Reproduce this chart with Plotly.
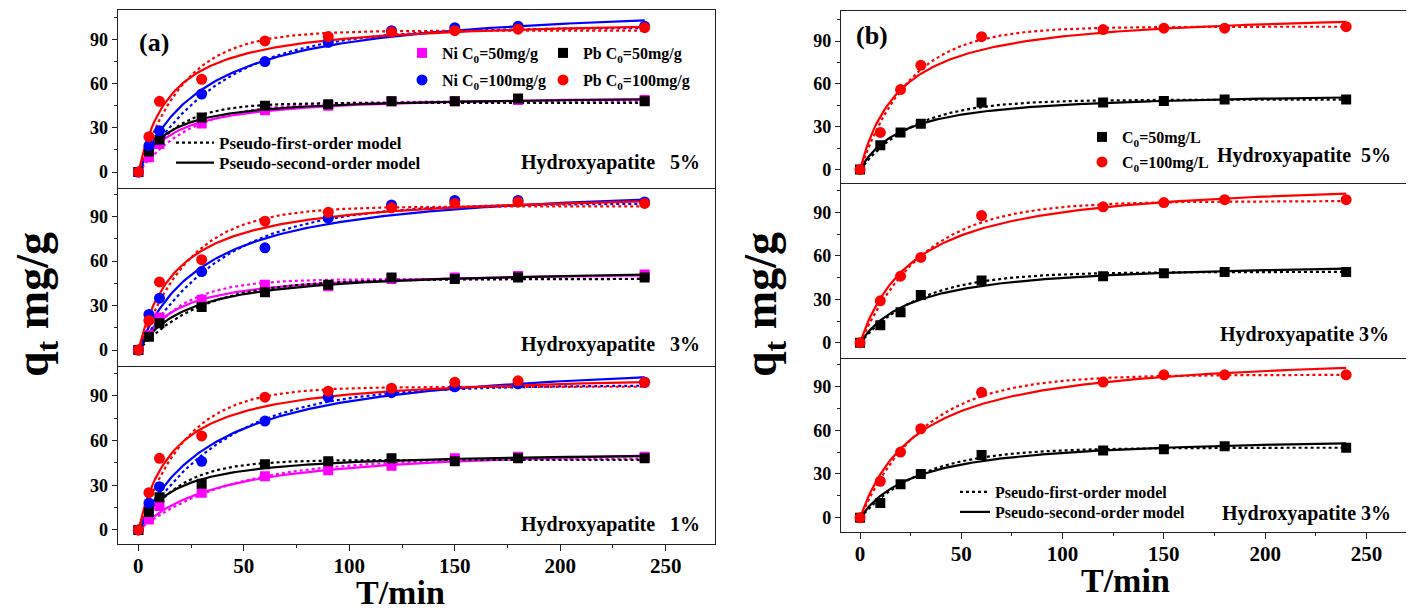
import numpy as np
import plotly.graph_objects as go

# The page body has an 8px default margin; the figure is sized so that
# reference pixel (px, py) maps to figure pixel (px-8, py-8).
OFF = 8
W, H = 1414 - OFF, 610 - OFF

# ---------------- data ----------------
t_a = [0, 5, 10, 30, 60, 90, 120, 150, 180, 240]
t_b = [0, 10, 20, 30, 60, 120, 150, 180, 240]

# panel (a) Hydroxyapatite 5%
ni50_5 = [0, 10, 19, 33, 42, 45, 48, 48, 49, 49]
pb50_5 = [0, 14, 22, 37, 45, 46, 48, 48, 50, 48]
ni100_5 = [0, 18, 28, 53, 75, 88, 96, 98, 99, 99]
pb100_5 = [0, 24, 48, 63, 89, 92, 95, 96, 97, 98]
# panel (a) Hydroxyapatite 3%
ni50_3 = [0, 10, 22, 34, 44, 43, 48, 49, 50, 51]
pb50_3 = [0, 9, 18, 29, 39, 44, 49, 48, 49, 49]
ni100_3 = [0, 24, 35, 53, 69, 89, 98, 101, 101, 100]
pb100_3 = [0, 20, 46, 61, 87, 93, 96, 99, 100, 99]
# panel (a) Hydroxyapatite 1%
ni50_1 = [0, 7, 16, 25, 36, 40, 43, 48, 49, 49]
pb50_1 = [0, 12, 22, 31, 44, 46, 48, 46, 48, 48]
ni100_1 = [0, 18, 29, 46, 73, 89, 92, 96, 98, 99]
pb100_1 = [0, 25, 48, 63, 89, 93, 95, 99, 100, 99]

# panel (b)
b5_c50 = [0, 17, 26, 32, 47, 47, 48, 49, 49]
b5_c100 = [0, 26, 56, 73, 93, 98, 99, 99, 100]
b3_c50 = [0, 12, 21, 33, 43, 46, 48, 49, 49]
b3_c100 = [0, 29, 46, 59, 88, 94, 97, 99, 99]
b3b_c50 = [0, 10, 23, 30, 43, 46, 47, 49, 48]
b3b_c100 = [0, 25, 45, 61, 86, 93, 98, 98, 98]

# fitted model parameters (estimated from the drawn curves)
# pseudo-first-order: qe, k1 ; pseudo-second-order: qe, k2
pfo_qe_a5 = [48, 47, 98, 96]
pfo_k1_a5 = [0.039, 0.058, 0.025, 0.046]
pso_qe_a5 = [53, 52, 117, 105]
pso_k2_a5 = [0.001126, 0.001442, 0.0002615, 0.000609]

pfo_qe_a3 = [48, 48, 99, 97]
pfo_k1_a3 = [0.049, 0.0327, 0.0248, 0.0414]
pso_qe_a3 = [54, 56, 115, 108]
pso_k2_a3 = [0.001052, 0.000738, 0.000275, 0.000505]

pfo_qe_a1 = [48, 47, 97, 96]
pfo_k1_a1 = [0.0231, 0.0515, 0.0242, 0.0449]
pso_qe_a1 = [58, 53, 118, 106]
pso_k2_a1 = [0.000436, 0.001126, 0.0002305, 0.000563]

pfo_qe_b5 = [49, 100]
pfo_k1_b5 = [0.0373, 0.0401]
pso_qe_b5 = [55, 112]
pso_k2_b5 = [0.000844, 0.000443]

pfo_qe_b3 = [49, 98]
pfo_k1_b3 = [0.0334, 0.0316]
pso_qe_b3 = [57, 115]
pso_k2_b3 = [0.000649, 0.000317]

pfo_qe_b3b = [48, 98]
pfo_k1_b3b = [0.0327, 0.0316]
pso_qe_b3b = [57, 115]
pso_k2_b3b = [0.000623, 0.000304]

panel_texts = ["Hydroxyapatite   5%", "Hydroxyapatite   3%", "Hydroxyapatite   1%",
               "Hydroxyapatite  5%", "Hydroxyapatite 3%", "Hydroxyapatite 3%"]
y_ticks = [0, 30, 60, 90]
x_ticks = [0, 50, 100, 150, 200, 250]

# ---------------- styling ----------------
MAG, BLK, BLU, RED = "#FF00FF", "#000000", "#0000FF", "#FF0000"
FONT = "Liberation Serif"
LINE = "#222222"
SQ, CI = 10, 11
t_fit = np.linspace(0, 240, 241)


def pfo(qe, k):
    return qe * (1 - np.exp(-k * t_fit))


def pso(qe, k2):
    return qe * qe * k2 * t_fit / (1 + qe * k2 * t_fit)


def fx(px):
    return (px - OFF) / W


def fy(py):
    return 1 - (py - OFF) / H


fig = go.Figure()

series_a = [
    (ni50_5, ni50_3, ni50_1, MAG, "square", "Ni C<sub>0</sub>=50mg/g"),
    (pb50_5, pb50_3, pb50_1, BLK, "square", "Pb C<sub>0</sub>=50mg/g"),
    (ni100_5, ni100_3, ni100_1, BLU, "circle", "Ni C<sub>0</sub>=100mg/g"),
    (pb100_5, pb100_3, pb100_1, RED, "circle", "Pb C<sub>0</sub>=100mg/g"),
]
params_a = [
    (pfo_qe_a5, pfo_k1_a5, pso_qe_a5, pso_k2_a5),
    (pfo_qe_a3, pfo_k1_a3, pso_qe_a3, pso_k2_a3),
    (pfo_qe_a1, pfo_k1_a1, pso_qe_a1, pso_k2_a1),
]
marker_legends_a = ["legend", "legend2", "legend3", "legend4"]

for p in range(3):
    ax = "" if p == 0 else str(p + 1)
    pq1, pk1, pq2, pk2 = params_a[p]
    for i, s in enumerate(series_a):
        col = s[3]
        show1 = (p == 0 and i == 1)
        fig.add_trace(go.Scatter(x=t_fit, y=pfo(pq1[i], pk1[i]), mode="lines",
                                 line=dict(color=col, width=2.2, dash="dot"),
                                 xaxis="x" + ax, yaxis="y" + ax,
                                 name="Pseudo-first-order model",
                                 showlegend=show1, legend="legend5", hoverinfo="skip"))
        fig.add_trace(go.Scatter(x=t_fit, y=pso(pq2[i], pk2[i]), mode="lines",
                                 line=dict(color=col, width=2.2),
                                 xaxis="x" + ax, yaxis="y" + ax,
                                 name="Pseudo-second-order model",
                                 showlegend=show1, legend="legend6", hoverinfo="skip"))
    for i, s in enumerate(series_a):
        fig.add_trace(go.Scatter(x=t_a, y=s[p], mode="markers",
                                 marker=dict(color=s[3], symbol=s[4], size=SQ if s[4] == "square" else CI),
                                 xaxis="x" + ax, yaxis="y" + ax, name=s[5],
                                 showlegend=(p == 0), legend=marker_legends_a[i]))

series_b = [
    ((b5_c50, b3_c50, b3b_c50), BLK, "square", "C<sub>0</sub>=50mg/L"),
    ((b5_c100, b3_c100, b3b_c100), RED, "circle", "C<sub>0</sub>=100mg/L"),
]
params_b = [
    (pfo_qe_b5, pfo_k1_b5, pso_qe_b5, pso_k2_b5),
    (pfo_qe_b3, pfo_k1_b3, pso_qe_b3, pso_k2_b3),
    (pfo_qe_b3b, pfo_k1_b3b, pso_qe_b3b, pso_k2_b3b),
]
for p in range(3):
    ax = str(p + 4)
    pq1, pk1, pq2, pk2 = params_b[p]
    for i, s in enumerate(series_b):
        col = s[1]
        show1 = (p == 2 and i == 0)
        fig.add_trace(go.Scatter(x=t_fit, y=pfo(pq1[i], pk1[i]), mode="lines",
                                 line=dict(color=col, width=2.2, dash="dot"),
                                 xaxis="x" + ax, yaxis="y" + ax,
                                 name="Pseudo-first-order model",
                                 showlegend=show1, legend="legend9", hoverinfo="skip"))
        fig.add_trace(go.Scatter(x=t_fit, y=pso(pq2[i], pk2[i]), mode="lines",
                                 line=dict(color=col, width=2.2),
                                 xaxis="x" + ax, yaxis="y" + ax,
                                 name="Pseudo-second-order model",
                                 showlegend=show1, legend="legend10", hoverinfo="skip"))
    for i, s in enumerate(series_b):
        fig.add_trace(go.Scatter(x=t_b, y=s[0][p], mode="markers",
                                 marker=dict(color=s[1], symbol=s[2], size=SQ if s[2] == "square" else CI),
                                 xaxis="x" + ax, yaxis="y" + ax, name=s[3],
                                 showlegend=(p == 0), legend="legend7" if i == 0 else "legend8"))

# ---------------- axes ----------------
a_x = [117.7, 715.3]
b_x = [841, 1412]
a_y = [(10, 187.7), (187.7, 365.7), (365.7, 544)]
b_y = [(11, 183.3), (183.3, 358.3), (358.3, 532)]
a_yr = [(-10.6, 110), (-10.6, 109.6), (-9.4, 110.1)]
b_yr = [(-9.6, 111), (-10.8, 110.3), (-9.8, 109.3)]

layout = dict(width=W, height=H, margin=dict(l=0, r=0, t=0, b=0),
              paper_bgcolor="white", plot_bgcolor="white", showlegend=True,
              font=dict(family=FONT, color="black"))

for p in range(6):
    key = "" if p == 0 else str(p + 1)
    if p < 3:
        xd = [fx(a_x[0]), fx(a_x[1])]
        top, bot = a_y[p]
        yr = a_yr[p]
        xr = [-9.8, 273.5]
    else:
        xd = [fx(b_x[0]), fx(b_x[1])]
        top, bot = b_y[p - 3]
        yr = b_yr[p - 3]
        xr = [-9.4, 272.5]
    bottom_row = p in (2, 5)
    has_upper = p in (1, 2, 4, 5)
    layout["xaxis" + key] = dict(
        domain=xd, range=xr, anchor="y" + key, showgrid=False, zeroline=False,
        showline=True, linecolor=LINE, linewidth=1.4, mirror=not has_upper,
        tickmode="array", tickvals=x_ticks,
        ticks="outside" if bottom_row else "", ticklen=6, tickwidth=1.3, tickcolor=LINE,
        showticklabels=bottom_row, ticklabelstandoff=-3,
        tickfont=dict(family=FONT, size=21, color="black", weight="bold"),
        minor=dict(dtick=25, tick0=0, ticks="outside" if bottom_row else "", ticklen=3,
                   tickwidth=1.2, tickcolor=LINE),
        fixedrange=True)
    layout["yaxis" + key] = dict(
        domain=[fy(bot), fy(top)], range=list(yr), anchor="x" + key, showgrid=False,
        zeroline=False, showline=True, linecolor=LINE, linewidth=1.4, mirror=True,
        tickmode="array", tickvals=y_ticks, ticks="outside", ticklen=5, tickwidth=1.3,
        tickcolor=LINE,
        tickfont=dict(family=FONT, size=18, color="black", weight="bold"),
        minor=dict(dtick=15, tick0=15, ticks="outside", ticklen=3, tickwidth=1.2,
                   tickcolor=LINE),
        fixedrange=True)


# ---------------- legends ----------------
def leg(xpx, ypx, size=16, itemwidth=30):
    return dict(x=fx(xpx), y=fy(ypx), xanchor="left", yanchor="middle",
                bgcolor="rgba(0,0,0,0)", borderwidth=0, itemwidth=itemwidth,
                font=dict(family=FONT, size=size, color="black", weight="bold"),
                tracegroupgap=0, itemclick=False, itemdoubleclick=False)


layout["legend"] = leg(402, 53)
layout["legend2"] = leg(543, 53)
layout["legend3"] = leg(402, 80)
layout["legend4"] = leg(543, 80)
layout["legend5"] = leg(171, 143, size=17, itemwidth=38)
layout["legend6"] = leg(171, 163, size=17, itemwidth=38)
layout["legend7"] = leg(1082, 137)
layout["legend8"] = leg(1082, 162)
layout["legend9"] = leg(955, 492, size=16)
layout["legend10"] = leg(955, 512, size=16)

# ---------------- annotations ----------------
ann = []


def add_text(txt, xpx, ypx, size, xanchor="center", angle=0):
    ann.append(dict(text=txt, x=fx(xpx), y=fy(ypx), xref="paper", yref="paper",
                    xanchor=xanchor, yanchor="middle", showarrow=False, textangle=angle,
                    font=dict(family=FONT, size=size, color="black", weight="bold")))


add_text("(a)", 154, 43, 26)
add_text("(b)", 872, 36, 26)
add_text(panel_texts[0], 702, 162, 20, xanchor="right")
add_text(panel_texts[1], 702, 344, 20, xanchor="right")
add_text(panel_texts[2], 702, 524, 20, xanchor="right")
add_text(panel_texts[3], 1393, 155, 20, xanchor="right")
add_text(panel_texts[4], 1391, 335, 20, xanchor="right")
add_text(panel_texts[5], 1393, 513, 20, xanchor="right")
add_text("T/min", 400, 592, 34)
add_text("T/min", 1125, 580, 34)
add_text("q<sub>t</sub> mg/g", 36, 305, 46, angle=-90)
add_text("q<sub>t</sub> mg/g", 764, 305, 46, angle=-90)
layout["annotations"] = ann

fig.update_layout(**layout)
fig.write_html("out.html")
